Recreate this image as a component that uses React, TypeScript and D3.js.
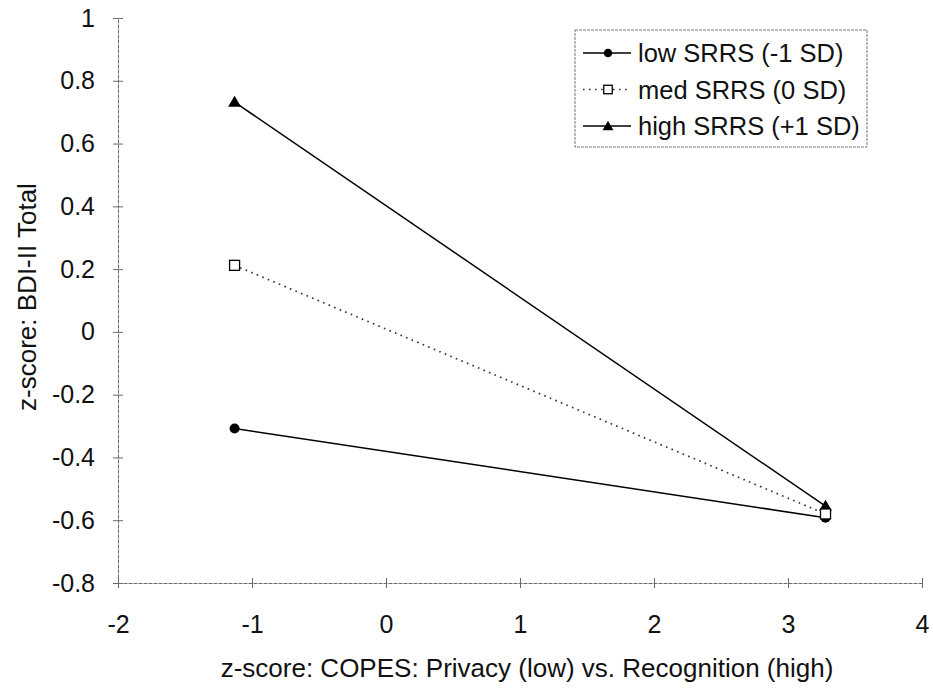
import React, { useRef, useEffect } from 'react';
import * as d3 from 'd3';

// values
const xLevels = [-1.13, 3.28];
const seriesNames = ['low SRRS (-1 SD)', 'med SRRS (0 SD)', 'high SRRS (+1 SD)'];
const lowSRRS = [-0.308, -0.592];
const medSRRS = [0.212, -0.58];
const highSRRS = [0.732, -0.555];
const xTicks = [-2, -1, 0, 1, 2, 3, 4];
const yTicks = [1, 0.8, 0.6, 0.4, 0.2, 0, -0.2, -0.4, -0.6, -0.8];

const W = 933, H = 689;
const margin = { top: 18, right: 11, bottom: 106, left: 118 };

function App() {
  const ref = useRef<SVGSVGElement>(null);

  useEffect(() => {
    const svg = d3.select(ref.current);
    svg.selectAll('*').remove();
    const width = W - margin.left - margin.right;
    const height = H - margin.top - margin.bottom;
    const font = 'Liberation Sans, Arial, sans-serif';
    const axisColor = '#6a6a6a';

    const x = d3.scaleLinear().domain([-2, 4]).range([0, width]);
    const y = d3.scaleLinear().domain([-0.8, 1]).range([height, 0]);

    const g = svg.append('g').attr('transform', `translate(${margin.left},${margin.top})`);

    // axes (ticks cross the axis line like the original)
    const xAxis = g.append('g').attr('transform', `translate(0,${height})`)
      .call(d3.axisBottom(x).tickValues(xTicks).tickSize(0).tickPadding(32).tickFormat((d) => String(d)));
    xAxis.select('.domain').attr('stroke', axisColor).attr('stroke-dasharray', '4,1');
    xAxis.selectAll('.tick').append('line').attr('y1', -5).attr('y2', 5).attr('stroke', axisColor);
    xAxis.selectAll('text').attr('font-size', 25).attr('font-family', font).attr('fill', '#111');

    const yAxis = g.append('g')
      .call(d3.axisLeft(y).tickValues(yTicks).tickSize(0).tickPadding(23).tickFormat((d) => String(d)));
    yAxis.select('.domain').attr('stroke', axisColor).attr('stroke-dasharray', '4,1');
    yAxis.selectAll('.tick').append('line').attr('x1', -5).attr('x2', 5).attr('stroke', axisColor);
    yAxis.selectAll('text').attr('font-size', 25).attr('font-family', font).attr('fill', '#111');

    // axis titles
    svg.append('text')
      .attr('x', 527).attr('y', 677)
      .attr('text-anchor', 'middle').attr('font-size', 26).attr('font-family', font).attr('fill', '#111')
      .text('z-score: COPES: Privacy (low) vs. Recognition (high)');
    svg.append('text')
      .attr('transform', `translate(36,297) rotate(-90)`)
      .attr('text-anchor', 'middle').attr('font-size', 26).attr('font-family', font).attr('fill', '#111')
      .text('z-score: BDI-II Total');

    const series = [
      { name: seriesNames[0], values: lowSRRS, dash: null, marker: 'circle' },
      { name: seriesNames[1], values: medSRRS, dash: '1.6,4.4', marker: 'square' },
      { name: seriesNames[2], values: highSRRS, dash: null, marker: 'triangle' },
    ];

    const line = d3.line<number>()
      .x((_, i) => x(xLevels[i]))
      .y((d) => y(d));

    const drawMarker = (sel: any, kind: string, cx: number, cy: number, k = 1) => {
      if (kind === 'circle') {
        sel.append('circle').attr('cx', cx).attr('cy', cy).attr('r', 5 * k).attr('fill', '#000');
      } else if (kind === 'square') {
        const s = 10 * k;
        sel.append('rect').attr('x', cx - s / 2).attr('y', cy - s / 2).attr('width', s).attr('height', s)
          .attr('fill', '#fff').attr('stroke', '#000').attr('stroke-width', 1.3);
      } else {
        sel.append('path').attr('d', d3.symbol(d3.symbolTriangle, 72 * k * k)())
          .attr('transform', `translate(${cx},${cy + 1})`).attr('fill', '#000');
      }
    };

    // draw order: low, high, then med on top
    [series[0], series[2], series[1]].forEach((s) => {
      g.append('path').datum(s.values).attr('d', line)
        .attr('fill', 'none').attr('stroke', s.dash ? '#333' : '#000')
        .attr('stroke-width', s.dash ? 1.7 : 1.5)
        .attr('stroke-dasharray', s.dash);
      s.values.forEach((v, i) => drawMarker(g, s.marker, x(xLevels[i]), y(v)));
    });

    // legend
    const lg = svg.append('g').attr('transform', 'translate(575,30)');
    lg.append('rect').attr('width', 292).attr('height', 117)
      .attr('fill', '#fff').attr('stroke', '#777').attr('stroke-dasharray', '3,1');
    series.forEach((s, i) => {
      const ry = 23 + i * 36.5;
      lg.append('line').attr('x1', 8).attr('x2', 56).attr('y1', ry).attr('y2', ry)
        .attr('stroke', s.dash ? '#333' : '#000').attr('stroke-width', 1.4)
        .attr('stroke-dasharray', s.dash);
      drawMarker(lg, s.marker, 33, ry, 0.85);
      lg.append('text').attr('x', 63).attr('y', ry + 9)
        .attr('font-size', 25.5).attr('font-family', font).attr('fill', '#111')
        .text(s.name);
    });
  }, []);

  return (
    <div className="chart">
      <svg ref={ref} width={W} height={H} style={{ position: 'absolute', left: 0, top: 0, background: '#fff' }}></svg>
    </div>
  );
}

export default App;
